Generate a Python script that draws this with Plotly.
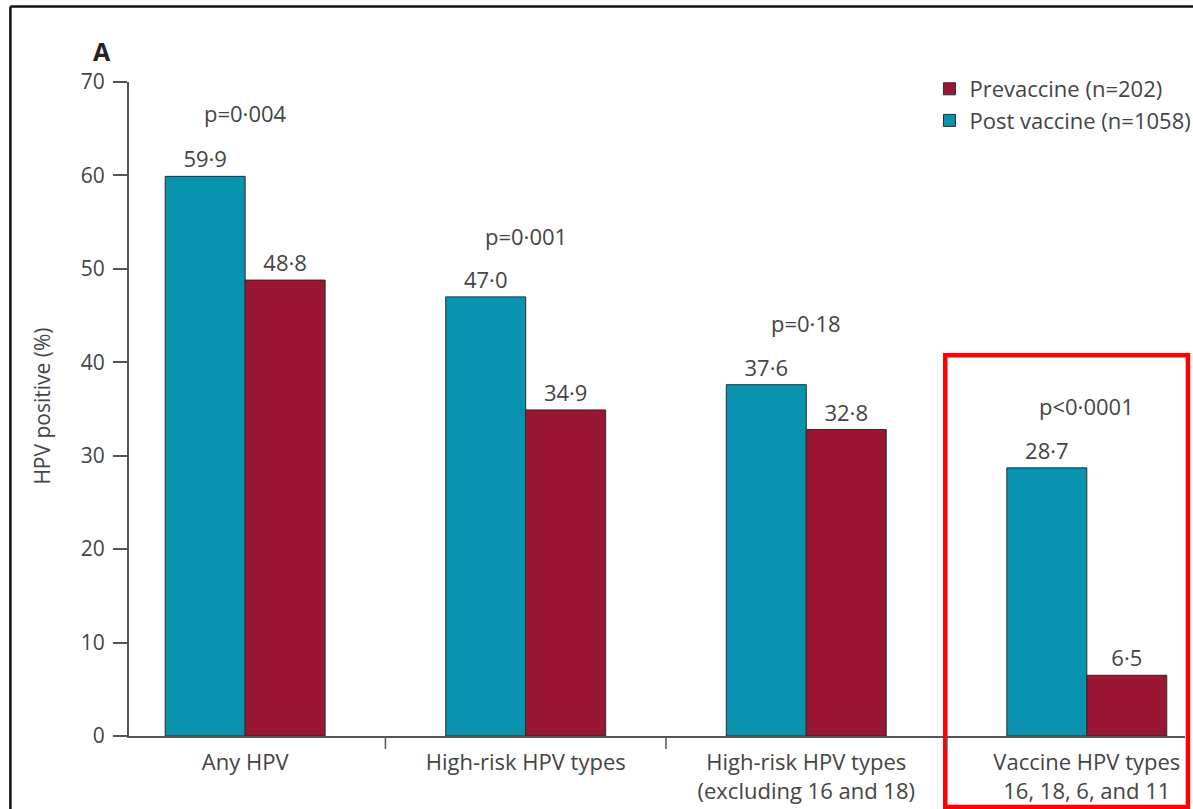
import plotly.graph_objects as go

categories = ["Any HPV", "High-risk HPV types", "High-risk HPV types<br>(excluding 16 and 18)",
              "Vaccine HPV types<br>16, 18, 6, and 11"]
post_vaccine = [59.9, 47.0, 37.6, 28.7]
prevaccine = [48.8, 34.9, 32.8, 6.5]
p_labels = ["p=0·004", "p=0·001", "p=0·18", "p<0·0001"]
p_label_y = [66.7, 53.5, 44.2, 35.3]
y_ticks = [0, 10, 20, 30, 40, 50, 60, 70]

TEAL = "#0993af"
MAROON = "#9a1733"
TXT = "#444444"
AX = "#555555"
FONT = "Open Sans"


def fmt(v):
    return f"{v:.1f}".replace(".", "·")


xs = list(range(len(categories)))

fig = go.Figure()
fig.add_trace(go.Bar(
    x=xs, y=post_vaccine, name="Post vaccine (n=1058)",
    marker=dict(color=TEAL, line=dict(color="#2a2a2a", width=1)),
    text=[fmt(v) for v in post_vaccine], textposition="outside",
    textfont=dict(size=22, color=TXT, family=FONT), cliponaxis=False,
))
fig.add_trace(go.Bar(
    x=xs, y=prevaccine, name="Prevaccine (n=202)",
    marker=dict(color=MAROON, line=dict(color="#2a2a2a", width=1)),
    text=[fmt(v) for v in prevaccine], textposition="outside",
    textfont=dict(size=22, color=TXT, family=FONT), cliponaxis=False,
))

for i, (lab, yy) in enumerate(zip(p_labels, p_label_y)):
    fig.add_annotation(x=i, y=yy, xref="x", yref="y", text=lab, showarrow=False,
                       font=dict(size=22, color=TXT, family=FONT))

# panel letter
fig.add_annotation(x=-0.0256, y=1.0475, xref="paper", yref="paper", text="<b>A</b>",
                   xanchor="center", yanchor="middle",
                   showarrow=False, font=dict(size=25, color="#222", family=FONT))
# y-axis title
fig.add_annotation(x=-0.0825, y=0.505, xref="paper", yref="paper", text="HPV positive (%)",
                   xanchor="center", yanchor="middle",
                   textangle=-90, showarrow=False, font=dict(size=21, color=TXT, family=FONT))

# outer frame (top and left edges; the rest lies outside the view)
fig.add_shape(type="line", xref="paper", yref="paper", x0=-0.1123, x1=1.0104, y0=1.1156, y1=1.1156,
              line=dict(color="#111", width=2.5), layer="above")
fig.add_shape(type="line", xref="paper", yref="paper", x0=-0.1123, x1=-0.1123, y0=-0.1149, y1=1.1156,
              line=dict(color="#111", width=2.5), layer="above")
# red highlight box
fig.add_shape(type="rect", xref="paper", yref="paper", x0=0.773, x1=1.0028, y0=-0.1087, y1=0.582,
              line=dict(color="#ff0000", width=4.5), layer="above")

fig.update_layout(
    width=1207, height=816,
    margin=dict(l=128.5, r=11, t=82, b=76),
    paper_bgcolor="white", plot_bgcolor="white",
    barmode="group", bargap=0.43, bargroupgap=0,
    font=dict(family=FONT, color=TXT, size=22),
    showlegend=True,
    legend=dict(x=0.758, y=1.0214, xanchor="left", yanchor="top",
                traceorder="reversed",
                font=dict(size=22, color=TXT, family=FONT), bgcolor="rgba(0,0,0,0)"),
    xaxis=dict(
        tickmode="array", tickvals=xs, ticktext=categories,
        range=[-0.414, 3.35], showgrid=False, zeroline=False,
        showline=True, linecolor=AX, linewidth=2,
        ticks="", ticklabelstandoff=6, tickfont=dict(size=22, color=TXT, family=FONT),
    ),
    yaxis=dict(
        range=[0, 70], tickvals=y_ticks, showgrid=False, zeroline=False,
        showline=True, linecolor=AX, linewidth=2,
        ticks="outside", ticklen=14, tickwidth=1.5, tickcolor=AX, ticklabelstandoff=4,
        tickfont=dict(size=21, color=TXT, family=FONT),
    ),
)

# category boundary ticks on the x axis (between groups)
for b in [0.5, 1.5, 2.5]:
    fig.add_shape(type="line", xref="x", yref="paper", x0=b, x1=b, y0=0, y1=-0.02,
                  line=dict(color=AX, width=1.5))

fig.write_html("out.html", config={"displayModeBar": False},
               post_script="document.body.style.margin='0px';")
